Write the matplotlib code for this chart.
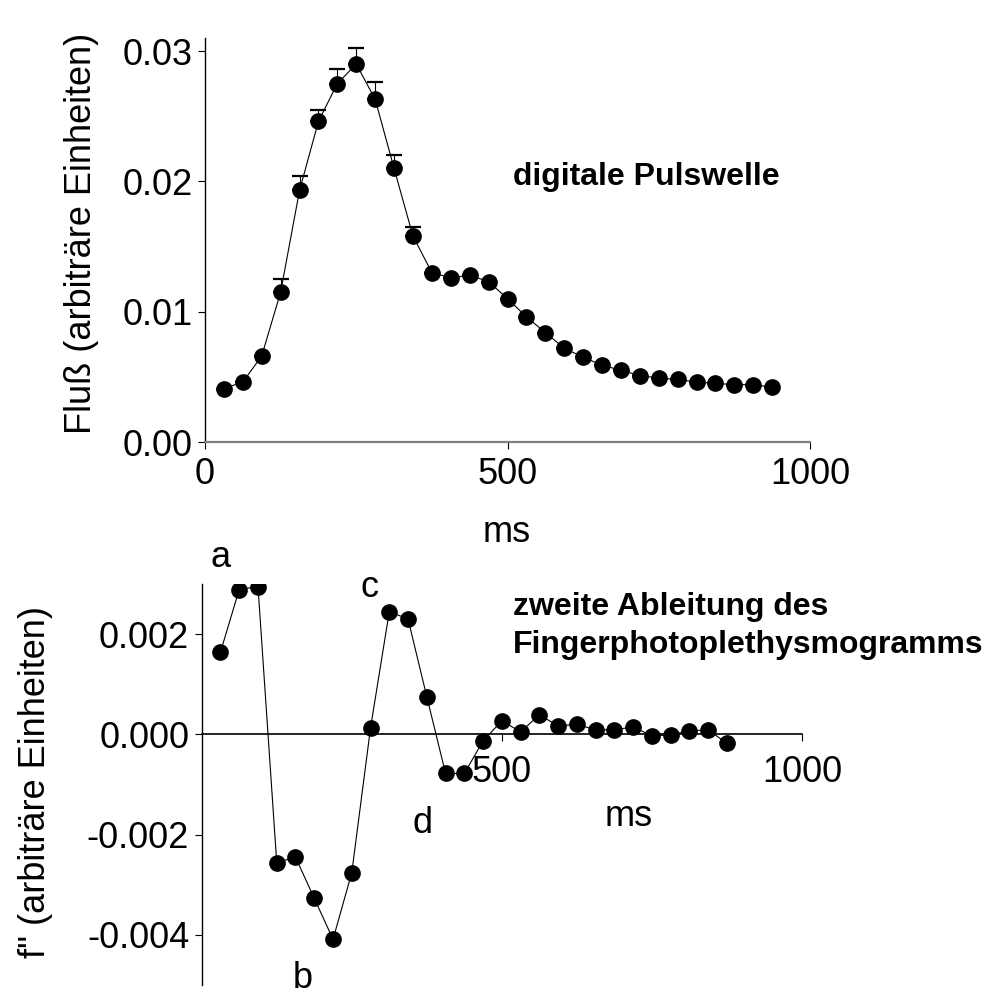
import numpy as np
import matplotlib
matplotlib.use("Agg")
import matplotlib.pyplot as plt

plt.rcParams['font.family'] = ['Liberation Sans', 'DejaVu Sans']

# ---------------- data ----------------
time_top = [31.25, 62.5, 93.75, 125, 156.25, 187.5, 218.75, 250, 281.25, 312.5,
            343.75, 375, 406.25, 437.5, 468.75, 500, 531.25, 562.5, 593.75, 625,
            656.25, 687.5, 718.75, 750, 781.25, 812.5, 843.75, 875, 906.25, 937.5]
flow = [0.0041, 0.0046, 0.0066, 0.0115, 0.0193, 0.0246, 0.0275, 0.0290, 0.0263, 0.0210,
        0.0158, 0.0130, 0.0126, 0.0128, 0.0123, 0.0110, 0.0096, 0.0084, 0.0072, 0.0065,
        0.0059, 0.0055, 0.0051, 0.0049, 0.0048, 0.0046, 0.0045, 0.0044, 0.0044, 0.0042]
flow_err = [0, 0, 0, 0.0010, 0.0011, 0.0009, 0.0011, 0.0012, 0.0013, 0.0010,
            0.0007, 0, 0, 0, 0, 0, 0, 0, 0, 0,
            0, 0, 0, 0, 0, 0, 0, 0, 0, 0]

time_bot = [31.25, 62.5, 93.75, 125, 156.25, 187.5, 218.75, 250, 281.25, 312.5,
            343.75, 375, 406.25, 437.5, 468.75, 500, 531.25, 562.5, 593.75, 625,
            656.25, 687.5, 718.75, 750, 781.25, 812.5, 843.75, 875]
deriv2 = [0.00164, 0.00289, 0.00295, -0.00256, -0.00245, -0.00327, -0.00409, -0.00276,
          0.00013, 0.00245, 0.00230, 0.00075, -0.00078, -0.00078, -0.00013, 0.00027,
          0.00005, 0.00039, 0.00017, 0.00020, 0.00009, 0.00009, 0.00015, -0.00003,
          -0.00001, 0.00007, 0.00009, -0.00018]

top_xticks = [0, 500, 1000]
top_yticks = [0.00, 0.01, 0.02, 0.03]
bot_xticks = [500, 1000]
bot_yticks = [-0.004, -0.002, 0.000, 0.002]

W, H = 991, 996
fig = plt.figure(figsize=(W / 100, H / 100), dpi=100)


def fx(px):
    return px / W


def fy(py):
    return 1 - py / H


TICK_FS = 26
LAB_FS = 26

# ---------------- top panel ----------------
ax1 = fig.add_axes([fx(205), fy(442), (810 - 205) / W, (442 - 38) / H])
ax1.errorbar(time_top, flow, yerr=[np.zeros(len(flow)), flow_err], fmt='none',
             ecolor='black', elinewidth=0.8, capsize=6, capthick=1.6, zorder=2)
ax1.plot(time_top, flow, color='black', lw=0.8, marker='o', ms=11,
         mfc='black', mec='black', zorder=3)
ax1.set_xlim(0, 1000)
ax1.set_ylim(0, 0.031)
ax1.set_xticks(top_xticks)
ax1.set_xticklabels([f'{v:d}' for v in top_xticks])
ax1.set_yticks(top_yticks)
ax1.set_yticklabels([f'{v:.2f}' for v in top_yticks])
for s in ['top', 'right']:
    ax1.spines[s].set_visible(False)
ax1.spines['left'].set_linewidth(1.0)
ax1.spines['bottom'].set_linewidth(1.6)
ax1.spines['bottom'].set_color('#808080')
ax1.tick_params(direction='out', length=5, width=0.8, labelsize=TICK_FS, pad=4)
ax1.tick_params(axis='x', pad=6)

fig.text(fx(82), fy(233), 'Fluß (arbiträre Einheiten)', rotation=90,
         ha='center', va='center', fontsize=LAB_FS)
fig.text(fx(507), fy(542), 'ms', ha='center', va='baseline', fontsize=LAB_FS)
fig.text(fx(513), fy(185), 'digitale Pulswelle', ha='left', va='baseline',
         fontsize=23, fontweight='bold')

# ---------------- bottom panel ----------------
ax2 = fig.add_axes([fx(201.7), fy(985), (802 - 201.7) / W, (985 - 584) / H])
ax2.plot(time_bot, deriv2, color='black', lw=0.8, marker='o', ms=11,
         mfc='black', mec='black', zorder=3)
ax2.set_xlim(0, 1000)
ax2.set_ylim(-0.005, 0.003)
ax2.spines['bottom'].set_position(('data', 0))
for s in ['top', 'right']:
    ax2.spines[s].set_visible(False)
ax2.spines['left'].set_linewidth(1.0)
ax2.spines['bottom'].set_linewidth(1.2)
ax2.set_xticks(bot_xticks)
ax2.set_xticklabels([f'{v:d}' for v in bot_xticks])
ax2.set_yticks(bot_yticks)
ax2.set_yticklabels([('%.3f' % v).replace('-0.000', '0.000') for v in bot_yticks])
ax2.tick_params(direction='out', length=5, width=0.8, labelsize=TICK_FS, pad=4)
ax2.tick_params(axis='x', pad=10)

fig.text(fx(36), fy(782), 'f" (arbiträre Einheiten)', rotation=90,
         ha='center', va='center', fontsize=LAB_FS)
fig.text(fx(629), fy(826), 'ms', ha='center', va='baseline', fontsize=LAB_FS)
fig.text(fx(513), fy(615), 'zweite Ableitung des', ha='left', va='baseline',
         fontsize=23, fontweight='bold')
fig.text(fx(513), fy(653), 'Fingerphotoplethysmogramms', ha='left', va='baseline',
         fontsize=23, fontweight='bold')

for lab, (px, py) in zip(['a', 'b', 'c', 'd'],
                         [(221, 567), (303, 988), (369, 597), (422, 833)]):
    fig.text(fx(px), fy(py), lab, ha='center', va='baseline', fontsize=LAB_FS)

fig.savefig('out.png', dpi=100)
